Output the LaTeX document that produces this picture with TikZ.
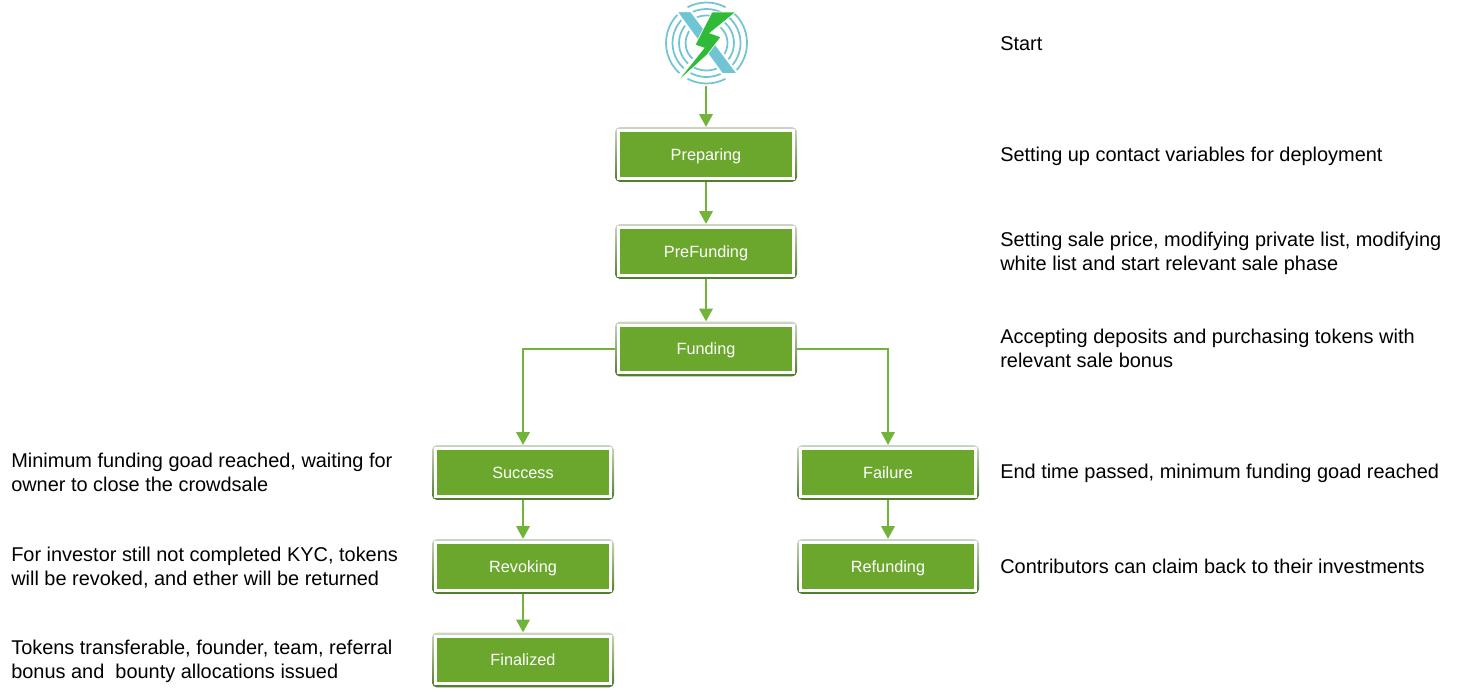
\documentclass[tikz,border=0pt]{standalone}
\usepackage{fontspec}
\setmainfont{Liberation Sans}
\usetikzlibrary{arrows.meta}
\definecolor{stagegreen}{HTML}{6BA72D}
\definecolor{linkgreen}{HTML}{72B43A}
\definecolor{rimlight}{HTML}{C9D6C2}
\definecolor{rimdark}{HTML}{4F7D2B}
\definecolor{logoteal}{HTML}{70C5D3}
\definecolor{boltgreen}{HTML}{30BA38}
\tikzset{
  stage/.style={rounded corners=3.5pt,top color=rimlight,bottom color=rimdark,
    minimum width=136.5pt,minimum height=41pt,inner sep=0pt,text=white,
    text height=10pt,text depth=1.3pt,
    font=\fontsize{12.2}{14}\selectfont,
    path picture={
      \fill[white,sharp corners] ([shift={(1.6pt,1.6pt)}]path picture bounding box.south west) rectangle ([shift={(-1.6pt,-1.6pt)}]path picture bounding box.north east);
      \fill[stagegreen,sharp corners] ([shift={(3.9pt,3.9pt)}]path picture bounding box.south west) rectangle ([shift={(-3.9pt,-3.9pt)}]path picture bounding box.north east);
    }},
  note/.style={anchor=west,align=left,inner sep=0pt,
    font=\fontsize{14.95}{18}\selectfont},
  link/.style={draw=linkgreen,line width=1.4pt,-{Triangle[length=9.5pt,width=10pt]}},
  ring/.style={draw=logoteal,line width=1.3pt}
}
\begin{document}
\begin{tikzpicture}[x=0.75pt,y=-0.75pt]
  \useasboundingbox (0,0) rectangle (1458,693);
  % logo
  \foreach \r in {40.5,34,27.5}{
    \draw[ring] (706.5,43)++(118:\r*0.75pt) arc (118:62:\r*0.75pt);
    \draw[ring] (706.5,43)++(-62:\r*0.75pt) arc (-62:-118:\r*0.75pt);
  }
  \foreach \r in {40.5,34,27.5,21}{
    \draw[ring] (706.5,43)++(135:\r*0.75pt) arc (135:228:\r*0.75pt);
    \draw[ring] (706.5,43)++(48:\r*0.75pt) arc (48:-42:\r*0.75pt);
  }
  \fill[logoteal,draw=white,line width=1.5pt] (676,11)--(691,11)--(738,74)--(722,74)--cycle;
  \fill[boltgreen,draw=white,line width=0.5pt] (712,12)--(736,12)--(710,33)--(721,37)--(707,55)--(676,83)--(704,48)--(695,45)--cycle;
  \coordinate (logo) at (706,86);
  % stages
  \node[stage] (preparing) at (706,154.5) {Preparing};
  \node[stage] (prefunding) at (706,251.5) {PreFunding};
  \node[stage] (funding) at (706,349) {Funding};
  \node[stage] (success) at (523,472.5) {Success};
  \node[stage] (failure) at (888,472.5) {Failure};
  \node[stage] (revoking) at (523,566.5) {Revoking};
  \node[stage] (refunding) at (888,566.5) {Refunding};
  \node[stage] (finalized) at (523,660) {Finalized};
  % links
  \draw[link] (logo)--(preparing);
  \draw[link] (preparing)--(prefunding);
  \draw[link] (prefunding)--(funding);
  \draw[link] (funding.west)-|(success.north);
  \draw[link] (funding.east)-|(failure.north);
  \draw[link] (success)--(revoking);
  \draw[link] (revoking)--(finalized);
  \draw[link] (failure)--(refunding);
  % notes
  \node[note] (startnote) at (1000,43.5) {Start};
  \node[note] (preparingnote) at (1000,156) {Setting up contact variables for deployment};
  \node[note] (prefundingnote) at (1000,253) {Setting sale price, modifying private list, modifying\\white list and start relevant sale phase};
  \node[note] (fundingnote) at (1000,348) {Accepting deposits and purchasing tokens with\\relevant sale bonus};
  \node[note] (failurenote) at (1000,473.5) {End time passed, minimum funding goad reached};
  \node[note] (refundingnote) at (1000,566) {Contributors can claim back to their investments};
  \node[note] (successnote) at (11,472) {Minimum funding goad reached, waiting for\\owner to close the crowdsale};
  \node[note] (revokingnote) at (11,567.5) {For investor still not completed KYC, tokens\\will be revoked, and ether will be returned};
  \node[note] (finalizednote) at (11,661) {Tokens transferable, founder, team, referral\\bonus and\ \ bounty allocations issued};
\end{tikzpicture}
\end{document}
